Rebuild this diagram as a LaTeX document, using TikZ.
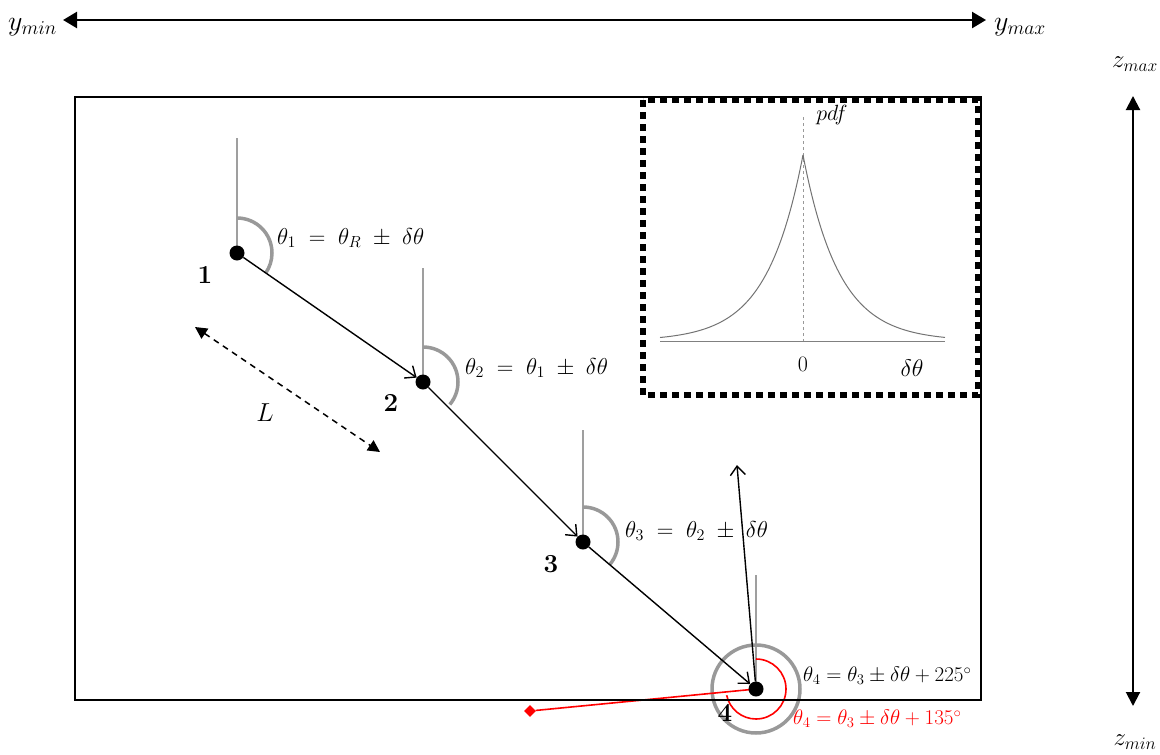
\documentclass[tikz,border=0pt]{standalone}
\usepackage{fix-cm}
\usetikzlibrary{arrows.meta,shapes.geometric,backgrounds}
\begin{document}
\begin{tikzpicture}[x=1pt,y=1pt,
  dot/.style={circle, fill=black, inner sep=0pt, minimum size=15pt},
  refline/.style={draw=gray!75, line width=1.6pt},
  anglearc/.style={draw=gray!80, line width=3.5pt},
  hop/.style={draw, line width=1.4pt, -{Straight Barb[length=9pt,width=15pt,line width=1.4pt]}},
  eq/.style={font=\fontsize{23}{27}\selectfont, anchor=west, inner sep=0pt},
  eqb/.style={font=\fontsize{21}{25}\selectfont, anchor=west, inner sep=0pt},
  num/.style={font=\fontsize{26}{30}\selectfont\bfseries, inner sep=0pt},
  axislabel/.style={font=\fontsize{28}{32}\selectfont, inner sep=0pt},
  bigarrow/.style={draw, line width=2.5pt, {Triangle[length=14pt,width=16pt]}-{Triangle[length=14pt,width=16pt]}}
]
\useasboundingbox (0,0) rectangle (1160,-755);

% horizontal extent
\coordinate (ya) at (63,-20);
\coordinate (yb) at (986,-20);
\draw[bigarrow] (ya) -- (yb);
\node[axislabel, anchor=west] (ymin) at (8,-27) {$y_{min}$};
\node[axislabel, anchor=west] (ymax) at (994,-27) {$y_{max}$};

% vertical extent
\coordinate (za) at (1133,-96);
\coordinate (zb) at (1133,-706);
\draw[line width=2pt, {Triangle[length=14pt,width=14pt]}-{Triangle[length=14pt,width=14pt]}] (za) -- (zb);
\node[axislabel, font=\fontsize{25}{29}\selectfont] (zmax) at (1135,-64) {$z_{max}$};
\node[axislabel, font=\fontsize{25}{29}\selectfont] (zmin) at (1135,-742) {$z_{min}$};

% domain
\draw[line width=1.8pt] (75,-97) rectangle (981,-700);

% inset: distribution of the angular step
\draw[line width=6pt, dash pattern=on 7pt off 5pt] (643,-100) rectangle (978,-395);
\draw[gray, line width=1pt] (660,-341) -- (945,-341);
\draw[gray!80, line width=1pt, dashed] (803,-117) -- (803,-341);
\draw[gray!90!black, line width=1pt] plot[domain=-143:0, samples=80] ({803+\x}, {-341+186*exp(\x/36)});
\draw[gray!90!black, line width=1pt] plot[domain=0:142, samples=80] ({803+\x}, {-341+186*exp(-\x/36)});
\node[font=\fontsize{22}{26}\selectfont, inner sep=0pt] (pdf) at (832,-115) {$pdf$};
\node[font=\fontsize{22}{26}\selectfont, inner sep=0pt] (zero) at (803,-364) {$0$};
\node[font=\fontsize{24}{28}\selectfont, inner sep=0pt] (dth) at (912,-368) {$\delta\theta$};

% walk positions
\node[dot] (p1) at (237,-253) {};
\node[dot] (p2) at (423,-382) {};
\node[dot] (p3) at (583,-542) {};
\node[dot] (p4) at (756,-689) {};

\coordinate (t1) at (237,-138);
\coordinate (t2) at (423,-268);
\coordinate (t3) at (583,-430);
\coordinate (t4) at (756,-575);

\begin{scope}[on background layer]
  \draw[refline] (p1.center) -- (t1);
  \draw[refline] (p2.center) -- (t2);
  \draw[refline] (p3.center) -- (t3);
  \draw[refline] (p4.center) -- (t4);
  \draw[anglearc] ([shift={(90:35)}]p1.center) arc[start angle=90, end angle=-35, radius=35];
  \draw[anglearc] ([shift={(90:35)}]p2.center) arc[start angle=90, end angle=-40, radius=35];
  \draw[anglearc] ([shift={(90:35)}]p3.center) arc[start angle=90, end angle=-40, radius=35];
  \draw[anglearc] (p4.center) circle[radius=44];
\end{scope}

% steps
\draw[hop] (p1) -- (p2);
\draw[hop] (p2) -- (p3);
\draw[hop] (p3) -- (p4);
\coordinate (up) at (737,-465);
\draw[hop] (p4) -- (up);

% reflected step
\node[diamond, fill=red, inner sep=0pt, minimum size=12pt] (rd) at (530,-711) {};
\begin{scope}[on background layer]
  \draw[red, line width=1.6pt] (p4.center) -- (rd);
  \draw[red, line width=1.6pt] ([shift={(90:30)}]p4.center) arc[start angle=90, end angle=-168, radius=30];
\end{scope}

% step length
\coordinate (la) at (195,-327);
\coordinate (lb) at (380,-452);
\draw[line width=1.5pt, dash pattern=on 6pt off 5pt, {Triangle[length=12pt,width=12pt]}-{Triangle[length=12pt,width=12pt]}] (la) -- (lb);
\node[font=\fontsize{26}{30}\selectfont, inner sep=0pt] (L) at (265,-413) {$L$};

% labels
\node[num] (n1) at (205,-275) {1};
\node[num] (n2) at (391,-403) {2};
\node[num] (n3) at (551,-564) {3};
\node[num] (n4) at (725,-713) {4};

\node[eq] (e1) at (277,-238) {$\theta_1 \;=\; \theta_R \;\pm\; \delta\theta$};
\node[eq] (e2) at (465,-368) {$\theta_2 \;=\; \theta_1 \;\pm\; \delta\theta$};
\node[eq] (e3) at (625,-531) {$\theta_3 \;=\; \theta_2 \;\pm\; \delta\theta$};
\node[eqb] (e4) at (803,-676) {$\theta_4 = \theta_3 \pm \delta\theta + 225^\circ$};
\node[eqb, text=red] (e5) at (793,-719) {$\theta_4 = \theta_3 \pm \delta\theta + 135^\circ$};
\end{tikzpicture}
\end{document}
